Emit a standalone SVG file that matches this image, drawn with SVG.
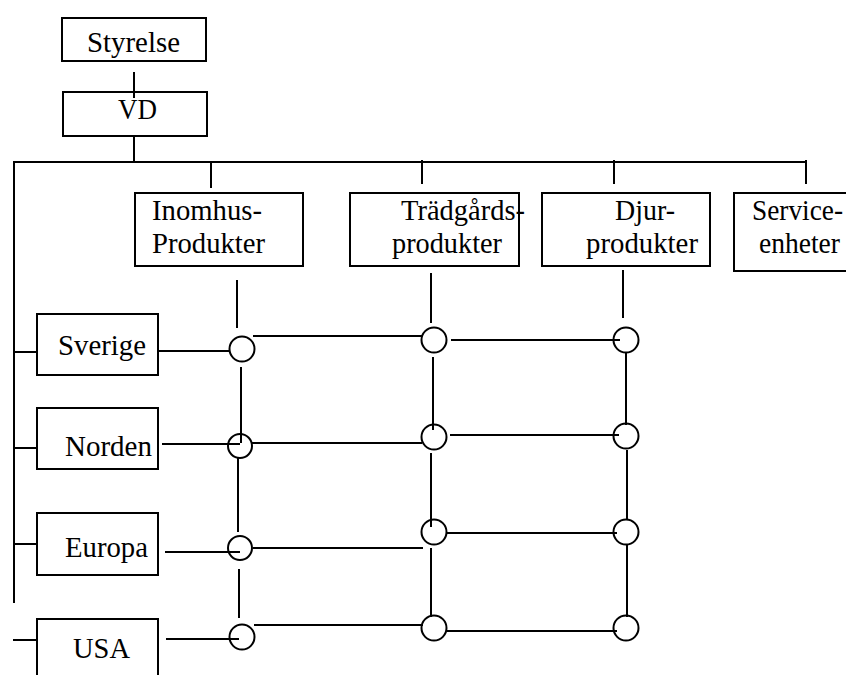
<svg xmlns="http://www.w3.org/2000/svg" width="846" height="675" viewBox="0 0 846 675">
<style>
.box{fill:#fff;stroke:#000;stroke-width:2}
.ln{stroke:#000;stroke-width:2;fill:none}
.c{fill:none;stroke:#000;stroke-width:2}
</style>
<rect width="846" height="675" fill="#fff"/>
<g id="connectors">
<line class="ln" x1="134" y1="72" x2="134" y2="97"/>
<line class="ln" x1="134" y1="136" x2="134" y2="162"/>
<line class="ln" x1="13" y1="162" x2="806" y2="162"/>
<line class="ln" x1="14" y1="162" x2="14" y2="603"/>
<line class="ln" x1="211" y1="162" x2="211" y2="188"/>
<line class="ln" x1="422" y1="160" x2="422" y2="184"/>
<line class="ln" x1="614" y1="160" x2="614" y2="184"/>
<line class="ln" x1="806" y1="160" x2="806" y2="184"/>
<line class="ln" x1="14" y1="352" x2="37" y2="352"/>
<line class="ln" x1="14" y1="448" x2="37" y2="448"/>
<line class="ln" x1="14" y1="544" x2="37" y2="544"/>
<line class="ln" x1="13" y1="640" x2="37" y2="640"/>
<line class="ln" x1="237" y1="280" x2="237" y2="328"/>
<line class="ln" x1="431" y1="273" x2="431" y2="323"/>
<line class="ln" x1="623" y1="270" x2="623" y2="318"/>
<line class="ln" x1="158" y1="351" x2="230" y2="351"/>
<line class="ln" x1="162" y1="444" x2="240" y2="444"/>
<line class="ln" x1="165" y1="552" x2="240" y2="552"/>
<line class="ln" x1="166" y1="639" x2="239" y2="639"/>
<line class="ln" x1="253" y1="336" x2="422" y2="336"/>
<line class="ln" x1="252" y1="443" x2="422" y2="443"/>
<line class="ln" x1="253" y1="548" x2="423" y2="548"/>
<line class="ln" x1="254" y1="625" x2="423" y2="625"/>
<line class="ln" x1="451" y1="340" x2="620" y2="340"/>
<line class="ln" x1="450" y1="435" x2="619" y2="435"/>
<line class="ln" x1="447" y1="533" x2="617" y2="533"/>
<line class="ln" x1="447" y1="631" x2="617" y2="631"/>
<line class="ln" x1="241" y1="367" x2="241" y2="443"/>
<line class="ln" x1="238" y1="458" x2="238" y2="532"/>
<line class="ln" x1="239" y1="569" x2="239" y2="618"/>
<line class="ln" x1="433" y1="357" x2="433" y2="430"/>
<line class="ln" x1="431" y1="453" x2="431" y2="527"/>
<line class="ln" x1="431" y1="548" x2="431" y2="617"/>
<line class="ln" x1="626" y1="353" x2="626" y2="425"/>
<line class="ln" x1="627" y1="450" x2="627" y2="520"/>
<line class="ln" x1="627" y1="545" x2="627" y2="617"/>
</g>
<g font-family="Liberation Serif, Times New Roman, serif" font-size="29" fill="#000" lengthAdjust="spacingAndGlyphs">
<g id="styrelse"><rect class="box" x="62" y="18" width="144" height="43"/><text x="87" y="52" textLength="93" lengthAdjust="spacingAndGlyphs">Styrelse</text></g>
<g id="vd"><rect class="box" x="63" y="92" width="144" height="44"/><text x="118" y="119" textLength="39" lengthAdjust="spacingAndGlyphs">VD</text></g>
<line class="ln" x1="134" y1="86" x2="134" y2="98"/>
<g id="inomhus"><rect class="box" x="135" y="193" width="168" height="73"/><text x="152" y="220" textLength="110" lengthAdjust="spacingAndGlyphs">Inomhus-</text><text x="152" y="253" textLength="113" lengthAdjust="spacingAndGlyphs">Produkter</text></g>
<g id="tradgards"><rect class="box" x="350" y="193" width="169" height="73"/><text x="401" y="220" textLength="124" lengthAdjust="spacingAndGlyphs">Trädgårds-</text><text x="392" y="253" textLength="110" lengthAdjust="spacingAndGlyphs">produkter</text></g>
<g id="djur"><rect class="box" x="542" y="193" width="168" height="73"/><text x="615" y="220" textLength="60" lengthAdjust="spacingAndGlyphs">Djur-</text><text x="586" y="253" textLength="112" lengthAdjust="spacingAndGlyphs">produkter</text></g>
<g id="service"><rect class="box" x="734" y="193" width="120" height="78"/><text x="752" y="220" textLength="91" lengthAdjust="spacingAndGlyphs">Service-</text><text x="759" y="253" textLength="81" lengthAdjust="spacingAndGlyphs">enheter</text></g>
<g id="sverige"><rect class="box" x="37" y="314" width="121" height="61"/><text x="58" y="355" textLength="88" lengthAdjust="spacingAndGlyphs">Sverige</text></g>
<g id="norden"><rect class="box" x="37" y="408" width="121" height="61"/><text x="65" y="456" textLength="87" lengthAdjust="spacingAndGlyphs">Norden</text></g>
<g id="europa"><rect class="box" x="37" y="513" width="121" height="62"/><text x="65" y="557" textLength="83" lengthAdjust="spacingAndGlyphs">Europa</text></g>
<g id="usa"><rect class="box" x="37" y="619" width="121" height="70"/><text x="73" y="658" textLength="57" lengthAdjust="spacingAndGlyphs">USA</text></g>
</g>
<g id="c-i1"><circle class="c" cx="242" cy="349" r="12.5"/></g>
<g id="c-i2"><circle class="c" cx="240" cy="446" r="12"/></g>
<g id="c-i3"><circle class="c" cx="240" cy="548" r="12"/></g>
<g id="c-i4"><circle class="c" cx="242" cy="637" r="12.5"/></g>
<g id="c-t1"><circle class="c" cx="434" cy="340" r="12.5"/></g>
<g id="c-t2"><circle class="c" cx="434" cy="437" r="12.5"/></g>
<g id="c-t3"><circle class="c" cx="434" cy="532" r="12.5"/></g>
<g id="c-t4"><circle class="c" cx="434" cy="628" r="12.5"/></g>
<g id="c-d1"><circle class="c" cx="626" cy="340" r="12.5"/></g>
<g id="c-d2"><circle class="c" cx="626" cy="436" r="12.5"/></g>
<g id="c-d3"><circle class="c" cx="626" cy="532" r="12.5"/></g>
<g id="c-d4"><circle class="c" cx="626" cy="628" r="12.5"/></g>
</svg>
